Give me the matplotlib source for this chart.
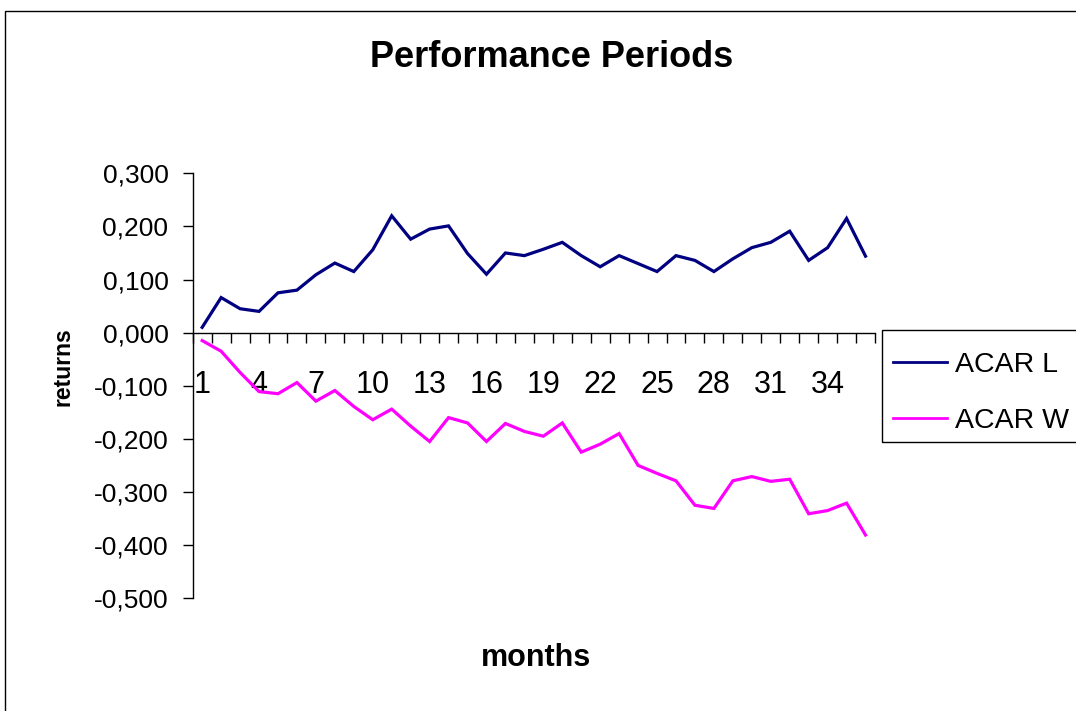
import matplotlib
matplotlib.use("Agg")
from matplotlib import pyplot as plt
from matplotlib.patches import Rectangle
import numpy as np

months = np.arange(1, 37)

acar_l = [0.010, 0.066, 0.045, 0.040, 0.075, 0.080, 0.109, 0.131, 0.115, 0.156,
          0.220, 0.176, 0.195, 0.201, 0.149, 0.110, 0.150, 0.145, 0.157, 0.170,
          0.145, 0.124, 0.145, 0.130, 0.115, 0.145, 0.136, 0.115, 0.139, 0.160,
          0.170, 0.191, 0.136, 0.160, 0.215, 0.144]

acar_w = [-0.015, -0.035, -0.075, -0.111, -0.115, -0.094, -0.129, -0.109, -0.139, -0.164,
          -0.144, -0.176, -0.205, -0.160, -0.170, -0.205, -0.171, -0.186, -0.195, -0.170,
          -0.225, -0.210, -0.190, -0.250, -0.265, -0.279, -0.325, -0.331, -0.279, -0.271,
          -0.280, -0.276, -0.341, -0.335, -0.321, -0.381]

y_ticks = [0.3, 0.2, 0.1, 0.0, -0.1, -0.2, -0.3, -0.4, -0.5]
x_labels = list(range(1, 36, 3))

font = ["Liberation Sans", "DejaVu Sans"]

W, H = 1076, 711
fig = plt.figure(figsize=(W / 100, H / 100), dpi=100)

# plot area in pixels: x 192.7..875, y 173.3..598.2
ax = fig.add_axes([192.7 / W, 1 - 598.2 / H, (875 - 192.7) / W, (598.2 - 173.3) / H])

ax.plot(months, acar_l, color="#000080", lw=2.3, label="ACAR L", solid_joinstyle="miter")
ax.plot(months, acar_w, color="#FF00FF", lw=2.3, label="ACAR W", solid_joinstyle="miter")

ax.set_xlim(0.5, 36.5)
ax.set_ylim(-0.5, 0.3)

for s in ["top", "right"]:
    ax.spines[s].set_visible(False)
ax.spines["bottom"].set_position(("data", 0))
ax.spines["bottom"].set_linewidth(1)
ax.spines["left"].set_linewidth(1)

# x axis: labels every third month, tick marks between categories
ax.set_xticks(x_labels)
ax.set_xticklabels([str(v) for v in x_labels], family=font, fontsize=22)
ax.set_xticks(np.arange(0.5, 37, 1), minor=True)
ax.tick_params(axis="x", which="major", length=0, pad=27)
ax.tick_params(axis="x", which="minor", length=7.5, width=1, direction="out")

ax.set_yticks(y_ticks)
ax.set_yticklabels([f"{v:.3f}".replace(".", ",") for v in y_ticks], family=font, fontsize=19)
ax.tick_params(axis="y", length=7.5, width=1, direction="out", pad=10)

ax.set_xlabel("months", family=font, fontsize=22, fontweight="bold", va="center")
ax.xaxis.set_label_coords(0.503, -0.141)
ax.set_ylabel("returns", family=font, fontsize=16.5, fontweight="bold", va="center")
ax.yaxis.set_label_coords(-0.19, 0.544)

fig.text(551.5 / W, 1 - 67.3 / H, "Performance Periods", ha="center", va="baseline",
         family=font, fontsize=26, fontweight="bold")

# legend entries without frame, box drawn separately
leg = ax.legend(loc="center left", bbox_to_anchor=(892.7 / W, 1 - 393 / H),
                bbox_transform=fig.transFigure, borderaxespad=0, borderpad=0,
                prop={"family": font, "size": 20.5},
                handlelength=1.9, handletextpad=0.28, labelspacing=1.06,
                frameon=False)
for line in leg.get_lines():
    line.set_linewidth(2)

fig.add_artist(Rectangle((882.3 / W, 1 - 442 / H), 220 / W, 112 / H, transform=fig.transFigure,
                         fill=False, lw=1, edgecolor="black"))

# chart border
fig.add_artist(Rectangle((4.5 / W, -0.1), 2, 1 - 10.5 / H + 0.1, transform=fig.transFigure,
                         fill=False, lw=1, edgecolor="black"))

fig.savefig("out.png", dpi=100)
